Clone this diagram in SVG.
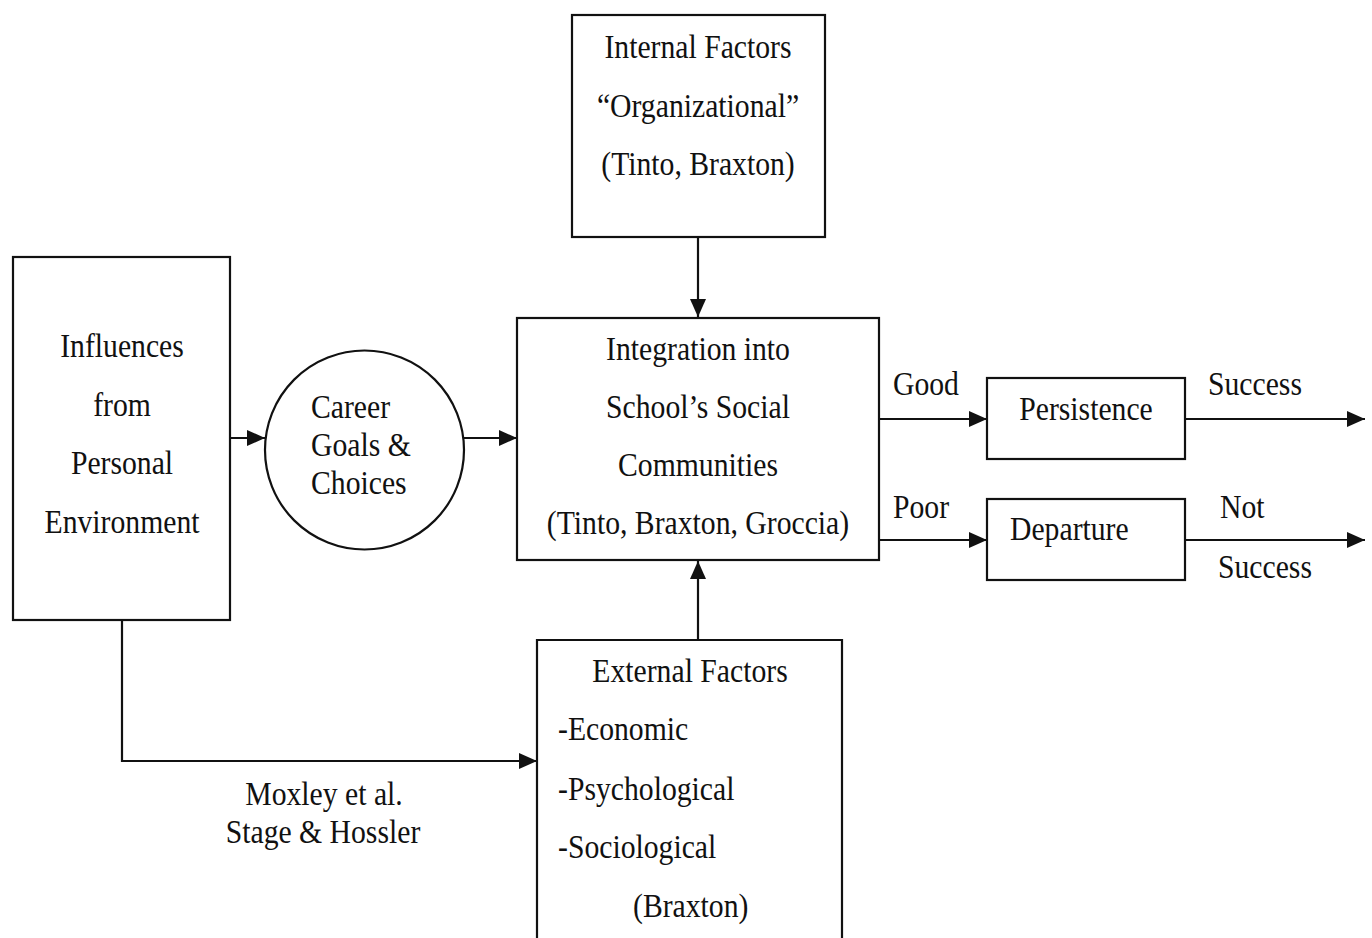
<svg xmlns="http://www.w3.org/2000/svg" width="1372" height="938" viewBox="0 0 1372 938">
<style>
text{font-family:"Liberation Serif","Times New Roman",serif;font-size:33px;fill:#111;}
.c{text-anchor:middle;}
.box{fill:#fff;stroke:#111;stroke-width:2.2;}
.ln{fill:none;stroke:#111;stroke-width:2.2;}
</style>
<defs>
<marker id="ah" markerUnits="userSpaceOnUse" markerWidth="20" markerHeight="18" refX="18" refY="8" orient="auto">
<path d="M0,0 L18,8 L0,16 z" fill="#111"/>
</marker>
</defs>
<rect width="1372" height="938" fill="#fff"/>
<g id="connectors">
<line class="ln" x1="698" y1="237" x2="698" y2="317" marker-end="url(#ah)"/>
<line class="ln" x1="230" y1="438" x2="265" y2="438" marker-end="url(#ah)"/>
<line class="ln" x1="464" y1="438" x2="517" y2="438" marker-end="url(#ah)"/>
<line class="ln" x1="879" y1="419" x2="987" y2="419" marker-end="url(#ah)"/>
<line class="ln" x1="879" y1="540" x2="987" y2="540" marker-end="url(#ah)"/>
<line class="ln" x1="1185" y1="419" x2="1365" y2="419" marker-end="url(#ah)"/>
<line class="ln" x1="1185" y1="540" x2="1365" y2="540" marker-end="url(#ah)"/>
<polyline class="ln" points="122,620 122,761 537,761" marker-end="url(#ah)"/>
<line class="ln" x1="698" y1="640" x2="698" y2="561" marker-end="url(#ah)"/>
<text transform="translate(893,395) scale(0.9,1)">Good</text>
<text transform="translate(893,518) scale(0.9,1)">Poor</text>
<text transform="translate(1208,395) scale(0.9,1)">Success</text>
<text transform="translate(1220,518) scale(0.9,1)">Not</text>
<text transform="translate(1218,578) scale(0.9,1)">Success</text>
<text class="c" transform="translate(324,805) scale(0.9,1)">Moxley et al.</text>
<text class="c" transform="translate(323,843) scale(0.9,1)">Stage &amp; Hossler</text>
</g>
<g id="internal">
<rect class="box" x="572" y="15" width="253" height="222"/>
<text class="c" transform="translate(698,58) scale(0.9,1)">Internal Factors</text>
<text class="c" transform="translate(698,117) scale(0.9,1)">“Organizational”</text>
<text class="c" transform="translate(698,175) scale(0.9,1)">(Tinto, Braxton)</text>
</g>
<g id="integration">
<rect class="box" x="517" y="318" width="362" height="242"/>
<text class="c" transform="translate(698,360) scale(0.9,1)">Integration into</text>
<text class="c" transform="translate(698,418) scale(0.9,1)">School’s Social</text>
<text class="c" transform="translate(698,476) scale(0.9,1)">Communities</text>
<text class="c" transform="translate(698,534) scale(0.9,1)">(Tinto, Braxton, Groccia)</text>
</g>
<g id="influences">
<rect class="box" x="13" y="257" width="217" height="363"/>
<text class="c" transform="translate(122,357) scale(0.9,1)">Influences</text>
<text class="c" transform="translate(122,416) scale(0.9,1)">from</text>
<text class="c" transform="translate(122,474) scale(0.9,1)">Personal</text>
<text class="c" transform="translate(122,533) scale(0.9,1)">Environment</text>
</g>
<g id="career">
<circle class="box" cx="364.5" cy="450" r="99.5"/>
<text transform="translate(311,418) scale(0.9,1)">Career</text>
<text transform="translate(311,456) scale(0.9,1)">Goals &amp;</text>
<text transform="translate(311,494) scale(0.9,1)">Choices</text>
</g>
<g id="persistence">
<rect class="box" x="987" y="378" width="198" height="81"/>
<text class="c" transform="translate(1086,420) scale(0.9,1)">Persistence</text>
</g>
<g id="departure">
<rect class="box" x="987" y="499" width="198" height="81"/>
<text transform="translate(1010,540) scale(0.9,1)">Departure</text>
</g>
<g id="external">
<path class="box" d="M537,945 V640 H842 V945"/>
<text class="c" transform="translate(690,682) scale(0.9,1)">External Factors</text>
<text transform="translate(558,740) scale(0.9,1)">-Economic</text>
<text transform="translate(558,800) scale(0.9,1)">-Psychological</text>
<text transform="translate(558,858) scale(0.9,1)">-Sociological</text>
<text transform="translate(633,917) scale(0.9,1)">(Braxton)</text>
</g>
</svg>
